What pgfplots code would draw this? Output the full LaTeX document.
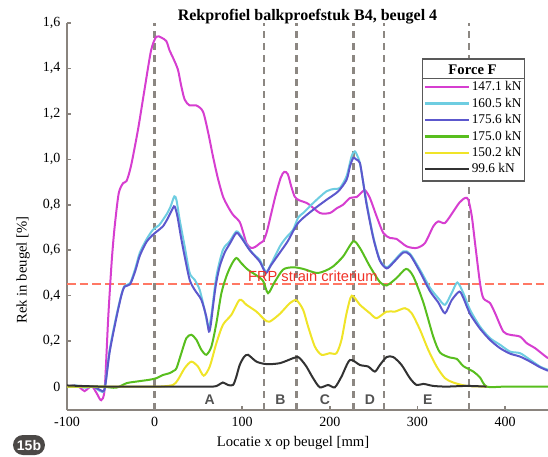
\documentclass[border=0pt]{standalone}
\usepackage{fontspec}
\setmainfont{Liberation Serif}
\newfontfamily\arialf{Liberation Sans}
\usepackage{pgfplots}
\pgfplotsset{compat=1.18}
\definecolor{cMag}{RGB}{214,62,208}
\definecolor{cCya}{RGB}{110,205,225}
\definecolor{cBlu}{RGB}{92,88,205}
\definecolor{cGrn}{RGB}{88,190,30}
\definecolor{cYel}{RGB}{240,228,40}
\definecolor{cBlk}{RGB}{50,50,50}
\definecolor{cAxis}{RGB}{138,132,126}
\definecolor{cDash}{RGB}{140,135,130}
\definecolor{cFRP}{RGB}{255,120,100}
\definecolor{cFRPtxt}{RGB}{240,50,40}
\definecolor{cBadge}{RGB}{75,72,70}
\begin{document}
\begin{tikzpicture}[x=0.75pt,y=0.75pt]
\begin{axis}[
  scale only axis, width=360.75pt, height=290.25pt,
  xmin=-100, xmax=449, ymin=-0.103, ymax=1.6,
  axis x line*=bottom, axis y line*=left,
  axis line style={cAxis, line width=1.5pt, -},
  xtick={-100,0,100,200,300,400}, xticklabels={-100,0,100,200,300,400},
  ytick={0,0.2,0.4,0.6,0.8,1.0,1.2,1.4,1.6},
  yticklabels={0,{0,2},{0,4},{0,6},{0,8},{1,0},{1,2},{1,4},{1,6}},
  tick align=inside, major tick length=3pt,
  tick style={cAxis, line width=1.2pt},
  ticklabel style={font=\fontsize{10.5}{12}\selectfont, text=black},
  xticklabel style={yshift=-2pt},
  yticklabel style={xshift=-1.5pt},
  xlabel={Locatie x op beugel [mm]},
  xlabel style={at={(axis description cs:0.470,-0.085)}, anchor=center, font=\fontsize{11}{13}\selectfont},
  ylabel={Rek in beugel [\%]},
  ylabel style={at={(axis description cs:-0.091,0.362)}, anchor=center, font=\fontsize{11}{13}\selectfont},
  legend style={at={(axis cs:304.8,1.446)}, anchor=north west, name=leg,
    draw=black!65, line width=1.2pt, fill=white,
    font=\fontsize{10}{12}\selectfont, row sep=1.1pt,
    inner xsep=1pt, inner ysep=3pt, nodes={inner sep=1.4pt}},
  legend cell align=left,
  legend image code/.code={\draw[#1, line width=1.6pt] (0pt,0pt) -- (33pt,0pt);},
]
\coordinate (SW) at (rel axis cs:0,0);
% reference lines
\foreach \xx in {0,125,162,227,262,359}{
  \edef\temp{\noexpand\draw[cDash, line width=1.7pt, dash pattern=on 5.5pt off 3.5pt] (axis cs:\xx,-0.103) -- (axis cs:\xx,1.6);}
  \temp
}
\draw[cFRP, line width=1pt, dash pattern=on 6.5pt off 3pt] (axis cs:-100,0.452) -- (axis cs:449,0.452);

\addlegendimage{empty legend}
\addlegendentry{\hspace*{-17.5pt}\textbf{\fontsize{11}{12}\selectfont Force F}\rule[-8pt]{0pt}{8pt}}

\addplot[color=cMag, line width=1.5pt, smooth, tension=0.45] coordinates {
(-100,0.0) (-91,0.005) (-85,-0.005) (-80,-0.02) (-75,-0.005) (-71,0.0) (-66,-0.03) (-61,-0.06) (-57,-0.01) (-53,0.3) (-49,0.55) (-45.7,0.7) (-41,0.85) (-36,0.895) (-32,0.905) (-27,0.97) (-19,1.13) (-11.4,1.31) (-4,1.48) (2,1.54) (8,1.535) (13.4,1.52) (17,1.48) (21,1.447) (26.6,1.395) (30,1.33) (34.3,1.263) (40,1.237) (47.7,1.237) (55.2,1.21) (61,1.12) (66.6,1.013) (72,0.92) (78,0.837) (84,0.79) (89.5,0.756) (97,0.725) (101,0.68) (105,0.63) (110,0.61) (115,0.615) (120,0.63) (124,0.64) (128,0.68) (133,0.76) (138,0.84) (144,0.92) (148,0.945) (152,0.935) (156,0.88) (160,0.835) (165,0.82) (175,0.805) (188.6,0.764) (200,0.764) (208,0.785) (215,0.80) (223,0.83) (230.5,0.834) (235,0.85) (240,0.864) (245.7,0.83) (253.4,0.749) (261,0.676) (268.6,0.654) (276,0.65) (287.7,0.617) (299,0.61) (308.6,0.632) (318,0.705) (323.8,0.727) (331.4,0.72) (341,0.771) (348,0.81) (354.3,0.83) (358,0.823) (362,0.75) (365.7,0.632) (371.4,0.455) (375.2,0.389) (382.9,0.367) (388.6,0.323) (398,0.242) (405.7,0.228) (417,0.22) (424.8,0.191) (434.3,0.169) (443.8,0.14) (449,0.125)
};
\addlegendentry{147.1 kN}

\addplot[color=cCya, line width=1.5pt, smooth, tension=0.45] coordinates {
(-100,0.0) (-90,0.005) (-80,-0.005) (-70,0.0) (-62,-0.02) (-57,-0.01) (-51.4,0.16) (-43.8,0.308) (-38,0.404) (-34.3,0.443) (-28,0.455) (-22,0.52) (-17,0.588) (-9.5,0.646) (-2,0.69) (5,0.71) (9.5,0.734) (14,0.76) (18,0.79) (22.5,0.837) (25,0.82) (28.6,0.734) (34.3,0.617) (40,0.5) (45.7,0.47) (51.4,0.426) (57,0.338) (60,0.28) (62,0.26) (65,0.32) (70.5,0.485) (78,0.602) (85.7,0.639) (93.3,0.683) (99,0.661) (108.6,0.602) (115,0.575) (120,0.558) (127,0.505) (133,0.54) (143,0.617) (150,0.655) (158,0.69) (164,0.745) (170,0.765) (181,0.808) (196,0.859) (205,0.87) (211.4,0.874) (219,0.925) (224.8,1.013) (228.6,1.035) (232,1.01) (234.3,0.984) (238,0.9) (242,0.808) (249.5,0.661) (257,0.558) (264.8,0.525) (272.4,0.55) (283.8,0.595) (291.4,0.585) (302.9,0.514) (314.3,0.435) (323.8,0.389) (331.4,0.36) (339,0.411) (345.5,0.458) (352.4,0.411) (360,0.338) (371.4,0.264) (382.9,0.213) (394.3,0.184) (405.7,0.154) (417.1,0.147) (428.6,0.118) (440,0.088) (449,0.074)
};
\addlegendentry{160.5 kN}

\addplot[color=cBlu, line width=1.5pt, smooth, tension=0.45] coordinates {
(-100,0.0) (-90,0.0) (-80,0.0) (-70,0.0) (-62,-0.015) (-57,-0.01) (-51.4,0.15) (-43.8,0.30) (-38,0.40) (-34.3,0.44) (-28,0.45) (-22,0.51) (-17,0.575) (-9.5,0.635) (-2,0.668) (5,0.69) (9.5,0.705) (15,0.74) (20.9,0.786) (23,0.792) (26,0.75) (30,0.66) (34.3,0.573) (40,0.47) (45.7,0.426) (53.3,0.382) (59,0.308) (62,0.242) (64,0.27) (66.6,0.352) (70,0.45) (74.3,0.529) (80,0.59) (86,0.63) (93.3,0.676) (99,0.655) (108.6,0.60) (120,0.55) (127,0.50) (133,0.535) (143,0.59) (152,0.64) (163.8,0.72) (180.9,0.778) (196.2,0.822) (209.5,0.859) (219.1,0.91) (223,0.97) (226.7,1.006) (230,1.0) (234.3,0.984) (238,0.90) (242,0.80) (249.5,0.655) (257,0.555) (264.8,0.52) (272.4,0.545) (283.8,0.59) (291.4,0.58) (302.9,0.505) (314.3,0.42) (323.8,0.37) (331.4,0.323) (339,0.38) (347.8,0.418) (352.4,0.39) (360,0.32) (371.4,0.255) (382.9,0.205) (394.3,0.169) (405.7,0.145) (417.1,0.132) (428.6,0.11) (440,0.085) (449,0.07)
};
\addlegendentry{175.6 kN}

\addplot[color=cGrn, line width=1.5pt, smooth, tension=0.45] coordinates {
(-100,0.0) (-80,0.0) (-60,0.0) (-44,-0.005) (-32,0.015) (-21,0.022) (-6,0.03) (2,0.037) (9.5,0.051) (17,0.059) (22,0.07) (25,0.081) (30.5,0.147) (36.2,0.213) (41.9,0.228) (47.7,0.206) (53.3,0.162) (59,0.14) (64.8,0.176) (70.5,0.279) (76.2,0.411) (81.9,0.485) (87.6,0.536) (93.3,0.566) (99,0.543) (106.6,0.514) (116,0.49) (123.8,0.465) (129.5,0.411) (137,0.46) (146.7,0.515) (158,0.525) (169.5,0.518) (184.8,0.5) (195,0.51) (203.8,0.529) (215.2,0.573) (226.7,0.639) (234.3,0.61) (245.7,0.529) (257.1,0.46) (264.8,0.445) (276.2,0.478) (287,0.518) (295.2,0.485) (306.7,0.37) (318,0.22) (325.7,0.15) (337,0.128) (344.8,0.122) (352.4,0.09) (363.8,0.066) (371.4,0.04) (379,0.0) (400,0.0) (420,0.0) (449,0.0)
};
\addlegendentry{175.0 kN}

\addplot[color=cYel, line width=1.5pt, smooth, tension=0.45] coordinates {
(-100,0.0) (-60,0.0) (-20,0.0) (5.7,0.0) (20.9,0.007) (26.6,0.03) (34.3,0.081) (41.9,0.11) (49.5,0.088) (56,0.048) (62.9,0.088) (70.5,0.191) (78,0.272) (87.6,0.316) (97.1,0.382) (104.8,0.36) (116.2,0.33) (125.7,0.294) (131.4,0.286) (142.9,0.32) (154.3,0.367) (161.9,0.38) (169.5,0.338) (175.2,0.264) (182.9,0.176) (190.5,0.14) (200,0.147) (207.6,0.147) (213.3,0.206) (219.1,0.323) (225,0.40) (234.3,0.36) (245.7,0.323) (253.4,0.301) (264.8,0.33) (274.3,0.33) (285.7,0.345) (293.4,0.323) (302.9,0.25) (312.3,0.162) (321.9,0.088) (331.4,0.037) (340.9,0.018) (356.2,0.003) (379,0.0)
};
\addlegendentry{150.2 kN}

\addplot[color=cBlk, line width=1.5pt, smooth, tension=0.45] coordinates {
(-100,0.005) (-60,0.0) (-20,0.0) (20,0.0) (43.8,0.0) (66.6,0.0) (72,0.005) (78,0.018) (83.8,0.007) (89.5,0.007) (93,0.04) (97.1,0.095) (102,0.13) (106.6,0.14) (116.2,0.11) (127.6,0.099) (142.9,0.103) (158,0.125) (163.8,0.13) (168,0.115) (173.3,0.088) (180.9,0.037) (188.6,-0.003) (198,0.007) (205.7,-0.003) (213.3,0.044) (222.9,0.117) (234.3,0.095) (243.8,0.088) (251.4,0.066) (257.1,0.095) (264.8,0.13) (272.4,0.13) (281.9,0.095) (291.4,0.037) (299,0.007) (306.7,0.012) (318,0.003) (333,0.0) (356.2,0.003) (379,0.0)
};
\addlegendentry{99.6 kN}

\node[font=\arialf\fontsize{11}{13}\selectfont, text=cFRPtxt] at (axis cs:180.6,0.485) {FRP strain criterium};
\foreach \lx/\lt in {62.9/A,143.7/B,194.3/C,245.7/D,311.7/E}{
  \edef\temp{\noexpand\node[font=\noexpand\arialf\noexpand\bfseries\noexpand\fontsize{10.5}{12}\noexpand\selectfont, text=black!68] at (axis cs:\lx,-0.0586) {\lt};}
  \temp
}
\end{axis}
\node[font=\bfseries\fontsize{12}{14}\selectfont, anchor=center] at ([shift={(240.5,393)}]SW) {Rekprofiel balkproefstuk B4, beugel 4};
\draw[black!65, line width=1.2pt] ([yshift=-15.5pt]leg.north west) -- ([yshift=-15.5pt]leg.north east);
\node[fill=cBadge, rounded corners=7.5pt, text=white, font=\arialf\bfseries\fontsize{10.5}{12}\selectfont,
  minimum width=24pt, minimum height=15pt, inner sep=0pt] at ([shift={(-38,-35)}]SW) {15b};
\pgfresetboundingbox
\useasboundingbox ([shift={(-67,-46)}]SW) rectangle ([shift={(481,410)}]SW);
\end{tikzpicture}
\end{document}
